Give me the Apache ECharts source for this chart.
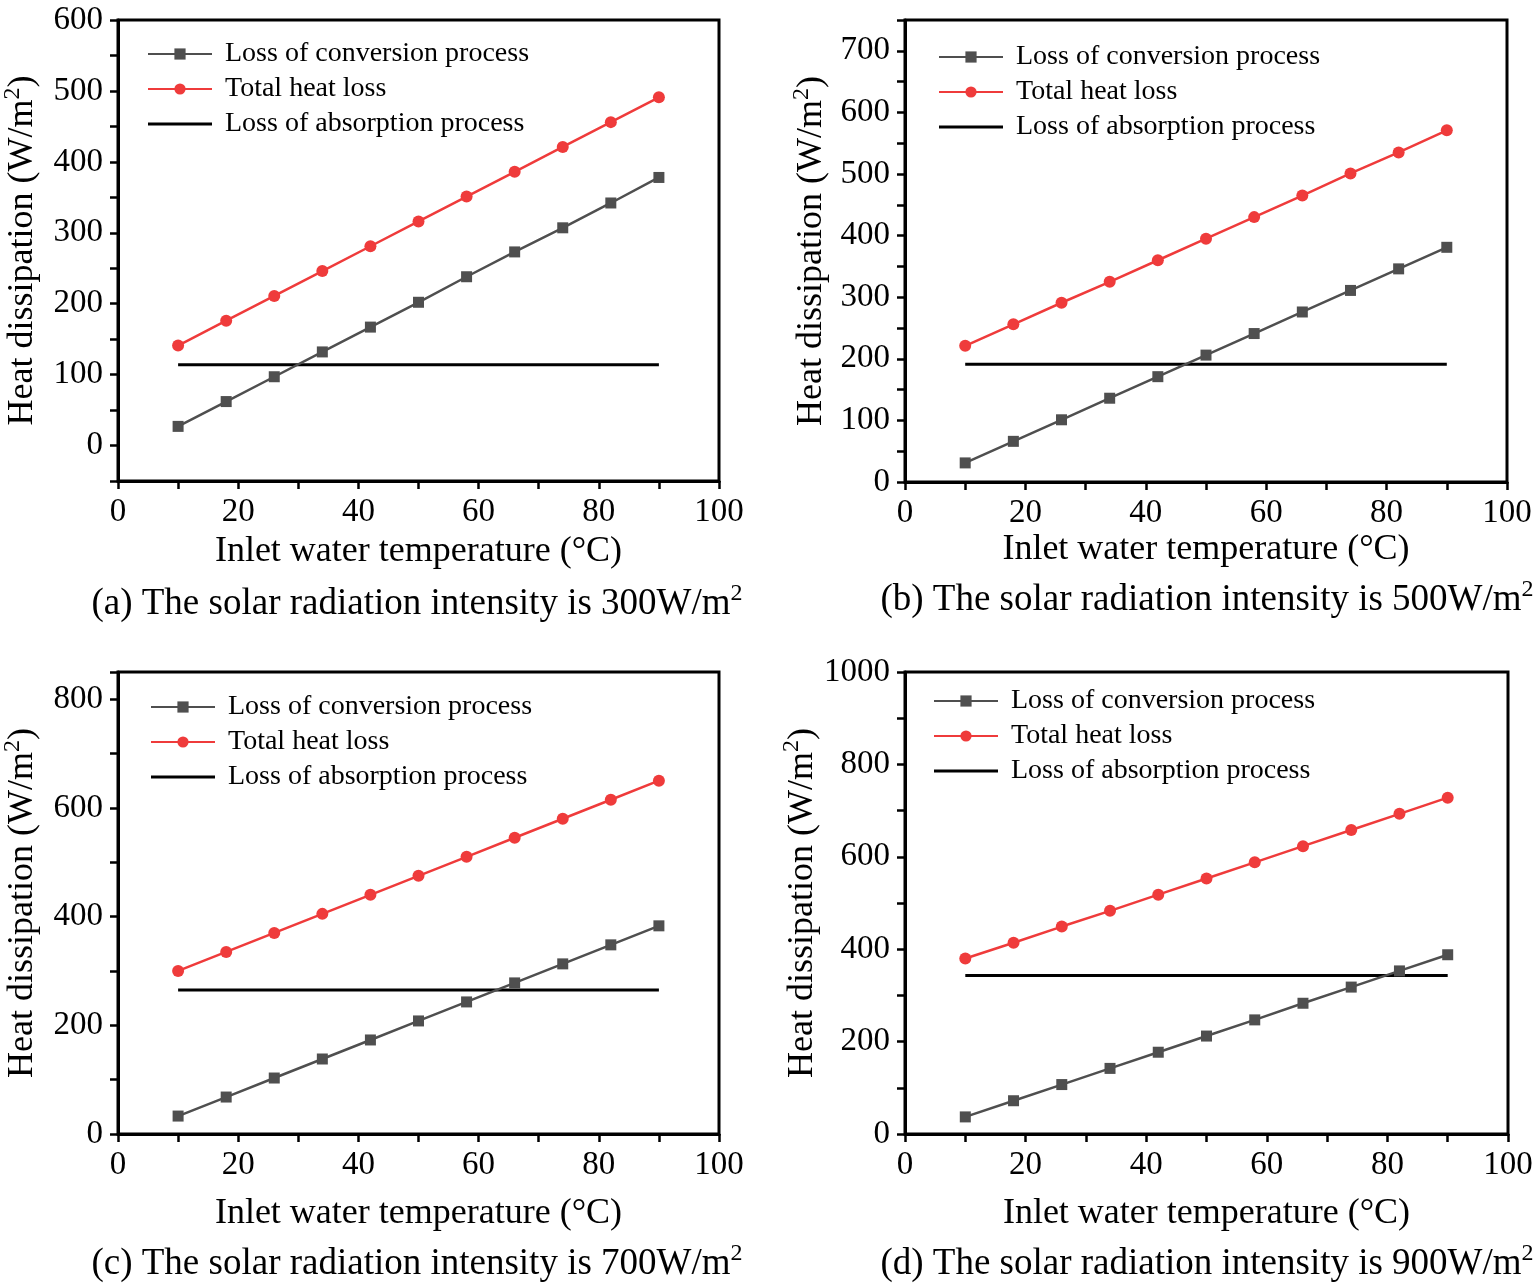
<!DOCTYPE html>
<html><head><meta charset="utf-8">
<script src="https://cdn.jsdelivr.net/npm/echarts@6/dist/echarts.min.js"></script>
<style>html,body{margin:0;padding:0;background:#fff}#c{width:1536px;height:1287px}</style>
</head><body><div id="c"></div>
<script>
const temps = [10, 18, 26, 34, 42, 50, 58, 66, 74, 82, 90];
const convA = [27, 62, 97, 132, 167, 202, 238, 273, 307, 342, 378];
const totalA = [141, 176, 211, 246, 281, 316, 351, 386, 421, 456, 491];
const absorbA = [114, 114, 114, 114, 114, 114, 114, 114, 114, 114, 114];
const convB = [31, 66, 101, 136, 171, 206, 241, 276, 311, 346, 381];
const totalB = [221, 256, 291, 325, 360, 395, 430, 465, 501, 535, 571];
const absorbB = [191, 191, 191, 191, 191, 191, 191, 191, 191, 191, 191];
const convC = [33, 68, 103, 138, 173, 208, 243, 278, 313, 348, 383];
const totalC = [300, 335, 370, 405, 440, 475, 510, 545, 580, 615, 650];
const absorbC = [265, 265, 265, 265, 265, 265, 265, 265, 265, 265, 265];
const convD = [37, 72, 107, 142, 177, 212, 247, 283, 318, 353, 388];
const totalD = [380, 414, 449, 483, 518, 553, 588, 623, 658, 693, 728];
const absorbD = [343, 343, 343, 343, 343, 343, 343, 343, 343, 343, 343];
const seriesNames = ['Loss of conversion process', 'Total heat loss', 'Loss of absorption process'];
const captions = ['(a) The solar radiation intensity is 300W/m', '(b) The solar radiation intensity is 500W/m',
                  '(c) The solar radiation intensity is 700W/m', '(d) The solar radiation intensity is 900W/m'];
const xName = 'Inlet water temperature (°C)';
const yName = 'Heat dissipation (W/m';
// y-axis ranges: [min, max, tick step, label step]
const yRanges = [[-50, 600, 50, 100], [0, 750, 50, 100], [0, 850, 100, 200], [0, 1000, 100, 200]];

const panels = [[convA, totalA, absorbA], [convB, totalB, absorbB], [convC, totalC, absorbC], [convD, totalD, absorbD]];
const grids = [
  {left: 116, top: 20, width: 603, height: 461},
  {left: 905, top: 20, width: 602, height: 462},
  {left: 116, top: 672, width: 603, height: 462},
  {left: 905, top: 672, width: 603, height: 462}
];
const legendPos = [{left: 147, top: 39}, {left: 938, top: 42}, {left: 150, top: 692}, {left: 933, top: 686}];
const capPos = [[417, 604], [1207, 600], [417, 1264], [1207, 1264]];
const xNameGap = [53, 50, 62, 62];
const yNameGap = [73, 71, 73, 78];

const FONT = '"Liberation Serif", "Times New Roman", serif';
const GRAY = '#4f4f4f', RED = '#ef3b3b', BLACK = '#000';
const supRich = {sup: {fontSize: 24, fontFamily: FONT, color: '#000', verticalAlign: 'top', padding: [0, 0, 20, 0]}};

const option = {
  animation: false,
  backgroundColor: '#fff',
  grid: grids.map(g => Object.assign({show: true, borderColor: '#000', borderWidth: 3, backgroundColor: 'transparent', containLabel: false}, g)),
  xAxis: grids.map((g, i) => ({
    gridIndex: i, type: 'value', min: 0, max: 100, interval: 10,
    name: xName, nameLocation: 'middle', nameGap: xNameGap[i],
    nameTextStyle: {fontFamily: FONT, fontSize: 36, color: '#000'},
    axisLine: {show: true, onZero: false, lineStyle: {color: '#000', width: 3}},
    axisTick: {show: true, length: 8, lineStyle: {color: '#000', width: 2.5}},
    axisLabel: {fontFamily: FONT, fontSize: 33, color: '#000', margin: 15,
      formatter: v => (v % 20 === 0 ? String(v) : '')},
    splitLine: {show: false}
  })),
  yAxis: grids.map((g, i) => ({
    gridIndex: i, type: 'value', min: yRanges[i][0], max: yRanges[i][1], interval: yRanges[i][2],
    name: yName + '{sup|2})', nameLocation: 'middle', nameGap: yNameGap[i],
    nameTextStyle: {fontFamily: FONT, fontSize: 36, color: '#000', rich: supRich},
    axisLine: {show: true, onZero: false, lineStyle: {color: '#000', width: 3}},
    axisTick: {show: true, length: 8, lineStyle: {color: '#000', width: 2.5}},
    axisLabel: {fontFamily: FONT, fontSize: 33, color: '#000', margin: 15, showMaxLabel: true,
      formatter: v => (v % yRanges[i][3] === 0 ? String(v) : '')},
    splitLine: {show: false}
  })),
  legend: legendPos.map((p, i) => ({
    left: p.left, top: p.top, orient: 'vertical', itemWidth: 64, itemHeight: 14, itemGap: 5, padding: 0,
    data: [seriesNames[0], seriesNames[1], {name: seriesNames[2], icon: 'path://M0,0H64V3.2H0Z'}],
    selectedMode: false, symbolKeepAspect: true,
    textStyle: {fontFamily: FONT, fontSize: 28, color: '#000', lineHeight: 30, padding: [0, 0, 0, 8]}
  })),
  series: [],
  graphic: captions.map((c, i) => ({
    type: 'text', x: capPos[i][0], y: capPos[i][1],
    style: {text: c + '{sup|2}', fontFamily: FONT, fontSize: 37, fill: '#000', align: 'center', verticalAlign: 'middle',
      rich: {sup: {fontSize: 24, fontFamily: FONT, fill: '#000', verticalAlign: 'top', padding: [0, 0, 20, 0]}}}
  }))
};

panels.forEach((p, i) => {
  const mk = ys => temps.map((t, k) => [t, ys[k]]);
  option.series.push({
    name: seriesNames[0], type: 'line', xAxisIndex: i, yAxisIndex: i, data: mk(p[0]),
    symbol: 'rect', symbolSize: 11, itemStyle: {color: GRAY}, lineStyle: {color: GRAY, width: 2.5}, z: 3
  });
  option.series.push({
    name: seriesNames[1], type: 'line', xAxisIndex: i, yAxisIndex: i, data: mk(p[1]),
    symbol: 'circle', symbolSize: 12, itemStyle: {color: RED}, lineStyle: {color: RED, width: 2.5}, z: 3
  });
  option.series.push({
    name: seriesNames[2], type: 'line', xAxisIndex: i, yAxisIndex: i, data: mk(p[2]),
    symbol: 'none', showSymbol: false, itemStyle: {color: BLACK}, lineStyle: {color: BLACK, width: 3}, z: 2
  });
});

const chart = echarts.init(document.getElementById('c'), null, {renderer: 'canvas'});
chart.setOption(option);
</script>
</body></html>
